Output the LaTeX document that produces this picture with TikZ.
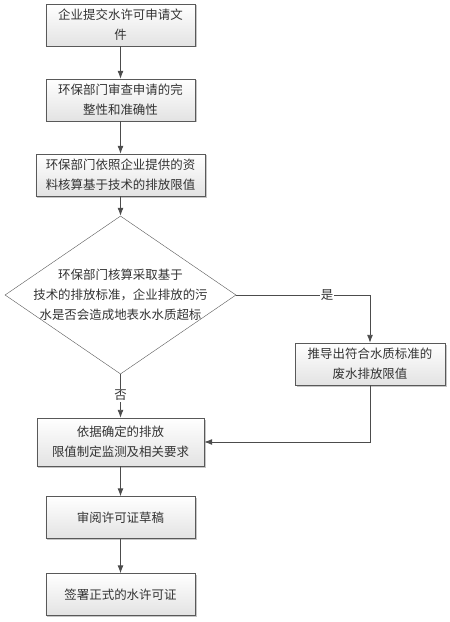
\documentclass[tikz,border=0pt]{standalone}
\usepackage{fontspec}
\newfontfamily\cjk{Noto Sans CJK SC}
\usetikzlibrary{arrows.meta}
\usetikzlibrary{shapes.geometric}
\usetikzlibrary{shadows}

\begin{document}
\begin{tikzpicture}[x=1bp,y=-1bp,
    boxstyle/.style={rectangle,draw=gray!70!black,top color=white,bottom color=gray!22,drop shadow={shadow xshift=1.5bp,shadow yshift=-1.5bp,fill=gray!45,opacity=1},minimum width=149bp,minimum height=42bp,inner sep=0,align=center,font=\cjk\fontsize{12.5}{20}\selectfont,text=black!80},
    flow/.style={draw=black!70,line width=0.9bp,-{Latex[length=8bp,width=6bp]}},
    tag/.style={fill=white,inner sep=1bp,font=\cjk\fontsize{12.5}{15}\selectfont,text=black!80}]
    \useasboundingbox (0,0) rectangle (450,622);
	% main column
	\node [boxstyle] (apply) at (120.5,25) {企业提交水许可申请文\\件};
	\node [boxstyle] (review) at (120.5,100) {环保部门审查申请的完\\整性和准确性};
	\node [boxstyle,minimum width=169bp] (calc) at (120.5,175) {环保部门依照企业提供的资\\料核算基于技术的排放限值};
	\node [diamond,draw=gray!70!black,fill=white,minimum width=231bp,minimum height=158bp,inner sep=0,
	  label={[align=center,font=\cjk\fontsize{12.5}{20}\selectfont,text=black!80]center:环保部门核算采取基于\\技术的排放标准，企业排放的污\\水是否会造成地表水水质超标}] (check) at (120.5,295) {};
	\node [boxstyle,minimum width=150bp] (derive) at (370,364) {推导出符合水质标准的\\废水排放限值};
	\node [boxstyle,minimum width=167bp,minimum height=48bp] (limit) at (120.5,442) {依据确定的排放\\限值制定监测及相关要求};
	\node [boxstyle] (draft) at (120.5,517.5) {审阅许可证草稿};
	\node [boxstyle] (sign) at (120.5,594.5) {签署正式的水许可证};
	% arrows
	\draw [flow] (apply) -- (review);
	\draw [flow] (review) -- (calc);
	\draw [flow] (calc) -- (check);
	\draw [flow] (check.east) -| node [tag,pos=0.34] {是} (derive.north);
	\draw [flow] (check.south) -- node [tag,pos=0.49] {否} (limit.north);
	\draw [flow] (derive.south) |- (limit.east);
	\draw [flow] (limit) -- (draft);
	\draw [flow] (draft) -- (sign);
\end{tikzpicture}
\end{document}
